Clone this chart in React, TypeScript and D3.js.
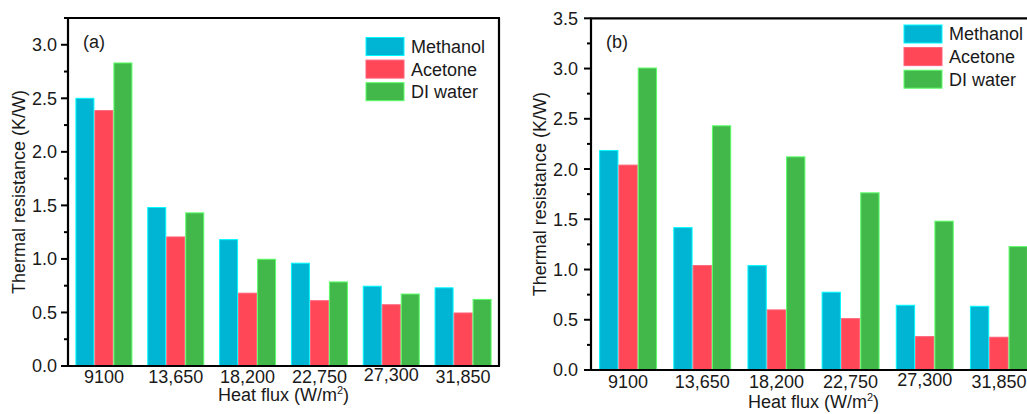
import * as d3 from 'd3';

// heat flux categories (W/m2)
const heatFlux = ['9100', '13,650', '18,200', '22,750', '27,300', '31,850'];
const fluids = ['Methanol', 'Acetone', 'DI water'];
const fluidColors = ['#00b5d3', '#ff4757', '#42b84b'];

// panel (a)
const methanolA = [2.5, 1.48, 1.18, 0.96, 0.745, 0.73];
const acetoneA = [2.385, 1.205, 0.68, 0.61, 0.572, 0.495];
const waterA = [2.83, 1.43, 0.997, 0.785, 0.672, 0.622];
const yTicksA = [0, 0.5, 1.0, 1.5, 2.0, 2.5, 3.0];
const yMaxA = 3.25;

// panel (b)
const methanolB = [2.184, 1.417, 1.039, 0.774, 0.644, 0.634];
const acetoneB = [2.039, 1.039, 0.598, 0.511, 0.332, 0.326];
const waterB = [3.005, 2.43, 2.121, 1.763, 1.481, 1.228];
const yTicksB = [0, 0.5, 1.0, 1.5, 2.0, 2.5, 3.0, 3.5];
const yMaxB = 3.5;

const font = 'Liberation Sans, Arial, sans-serif';
const fmt = d3.format('.1f');

type PanelProps = {
  tag: string;
  series: number[][];
  yTicks: number[];
  yMax: number;
  left: number;
  right: number;
  top: number;
  bottom: number;
  boxed: boolean;
  yLabelX: number;
  tickBase: number;
  xLabelBase: number;
  tickGap: number;
  legendX: number;
  legendY: number;
  outerPad: number;
};

function Panel(p: PanelProps) {
  const x0 = d3.scaleBand<string>().domain(heatFlux).range([p.left, p.right]).padding(0);
  const x1 = d3
    .scaleBand<string>()
    .domain(fluids)
    .range([0, x0.bandwidth()])
    .paddingInner(0)
    .paddingOuter(p.outerPad);
  const y = d3.scaleLinear().domain([0, p.yMax]).range([p.bottom, p.top]);

  const minor = d3.range(0, p.yMax + 0.001, 0.25).filter((v) => Math.abs(v * 2 - Math.round(v * 2)) > 0.01);
  const mid = (p.top + p.bottom) / 2;

  return (
    <g fontFamily={font} fill="#1a1a1a">
      {heatFlux.map((cat, i) => (
        <g key={cat}>
          {fluids.map((f, j) => {
            const v = p.series[j][i];
            const c = fluidColors[j];
            return (
              <rect
                key={f}
                x={x0(cat)! + x1(f)! + 0.5}
                y={y(v)}
                width={x1.bandwidth() - 1}
                height={y(0) - y(v)}
                fill={c}
                stroke={d3.color(c)!.brighter(0.9).formatHex()}
                strokeWidth={1}
              />
            );
          })}
          <text
            x={x0(cat)! + x0.bandwidth() / 2}
            y={p.tickBase - (i === 4 ? 2 : 0)}
            textAnchor="middle"
            fontSize={18}
          >
            {cat}
          </text>
        </g>
      ))}

      {/* frame */}
      <line x1={p.left} x2={p.left} y1={p.top} y2={p.bottom + 1} stroke="#000" strokeWidth={2.2} />
      <line x1={p.left - 1} x2={p.right + 1} y1={p.bottom} y2={p.bottom} stroke="#000" strokeWidth={2.2} />
      <line x1={p.left - 1} x2={p.right + 1} y1={p.top} y2={p.top} stroke="#000" strokeWidth={2.2} />
      {p.boxed && <line x1={p.right} x2={p.right} y1={p.top} y2={p.bottom} stroke="#000" strokeWidth={2.2} />}

      {/* y ticks */}
      {p.yTicks.map((t) => (
        <g key={t}>
          <line x1={p.left - 7} x2={p.left} y1={y(t)} y2={y(t)} stroke="#000" strokeWidth={2} />
          <text x={p.left - 7 - p.tickGap} y={y(t)} dy="0.36em" textAnchor="end" fontSize={18}>
            {fmt(t)}
          </text>
        </g>
      ))}
      {minor.map((t) => (
        <line key={t} x1={p.left - 4} x2={p.left} y1={y(t)} y2={y(t)} stroke="#000" strokeWidth={2} />
      ))}

      <text
        transform={`translate(${p.yLabelX},${mid}) rotate(-90)`}
        textAnchor="middle"
        dy="0.35em"
        fontSize={18}
      >
        Thermal resistance (K/W)
      </text>
      <text x={(p.left + Math.min(p.right, 1062)) / 2} y={p.xLabelBase} textAnchor="middle" fontSize={18}>
        Heat flux (W/m
        <tspan dy={-7} fontSize={11}>
          2
        </tspan>
        <tspan dy={7}>)</tspan>
      </text>

      <text x={p.left + 15} y={p.top + 30} fontSize={18}>
        {p.tag}
      </text>

      {fluids.map((f, j) => (
        <g key={f} transform={`translate(${p.legendX},${p.legendY + j * 22.6})`}>
          <rect x={0} y={0} width={38} height={18} fill={fluidColors[j]} stroke={d3.color(fluidColors[j])!.brighter(0.9).formatHex()} />
          <text x={45} y={9} dy="0.36em" fontSize={18}>
            {f}
          </text>
        </g>
      ))}
    </g>
  );
}

export default function App() {
  return (
    <div style={{ position: 'absolute', left: 0, top: 0 }}>
      <svg width={1027} height={414} style={{ display: 'block', background: '#fff' }}>
        <Panel
          tag="(a)"
          series={[methanolA, acetoneA, waterA]}
          yTicks={yTicksA}
          yMax={yMaxA}
          left={68}
          right={499}
          top={18}
          bottom={366}
          boxed={true}
          yLabelX={19}
          tickBase={383}
          xLabelBase={401}
          tickGap={4}
          legendX={366}
          legendY={37.5}
          outerPad={0.39}
        />
        <Panel
          tag="(b)"
          series={[methanolB, acetoneB, waterB]}
          yTicks={yTicksB}
          yMax={yMaxB}
          left={591}
          right={1036}
          top={18.3}
          bottom={370}
          boxed={false}
          yLabelX={540}
          tickBase={388}
          xLabelBase={408}
          tickGap={6}
          legendX={904}
          legendY={25}
          outerPad={0.42}
        />
      </svg>
    </div>
  );
}
